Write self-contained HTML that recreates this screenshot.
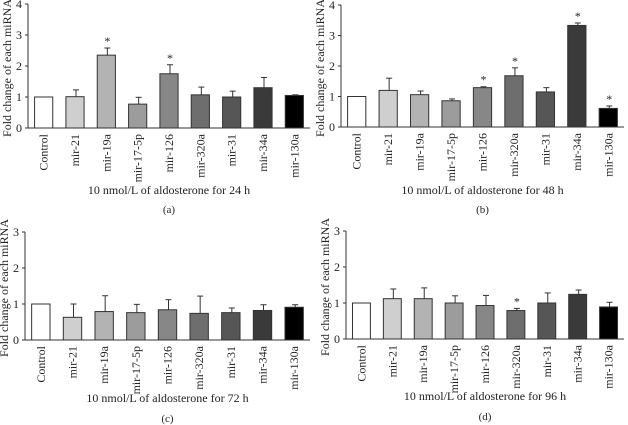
<!DOCTYPE html>
<html><head><meta charset="utf-8"><style>
body{margin:0;background:#fff}
svg{display:block;font-family:"Liberation Serif",serif}
</style></head><body>
<svg id="fig" width="628" height="425"></svg>
<script>
const categories=["Control","mir-21","mir-19a","mir-17-5p","mir-126","mir-320a","mir-31","mir-34a","mir-130a"];
const valuesA=[1,1.01,2.35,0.77,1.75,1.07,1.0,1.3,1.05];
const errorsA=[0,0.22,0.23,0.22,0.29,0.25,0.19,0.33,0.02];
const starsA=[0,0,1,0,1,0,0,0,0];
const valuesB=[1,1.2,1.06,0.86,1.29,1.68,1.15,3.33,0.61];
const errorsB=[0,0.4,0.12,0.06,0.03,0.26,0.14,0.08,0.08];
const starsB=[0,0,0,0,1,1,0,1,1];
const valuesC=[1,0.63,0.79,0.76,0.84,0.74,0.76,0.82,0.91];
const errorsC=[0,0.37,0.44,0.23,0.28,0.48,0.13,0.16,0.07];
const starsC=[0,0,0,0,0,0,0,0,0];
const valuesD=[1,1.12,1.12,1.0,0.93,0.79,1.0,1.24,0.89];
const errorsD=[0,0.27,0.3,0.2,0.28,0.06,0.28,0.12,0.13];
const starsD=[0,0,0,0,0,1,0,0,0];
const ticksAB=[0,1,2,3,4];
const ticksCD=[0,1,2,3];
const colors=["#fff","#cfcfcf","#b3b3b3","#9c9c9c","#878787","#6e6e6e","#565656","#3a3a3a","#000"];
const NS="http://www.w3.org/2000/svg";
const fig=document.getElementById('fig');
function mk(tag,attrs,parent,text){const e=document.createElementNS(NS,tag);for(const k in attrs)e.setAttribute(k,attrs[k]);if(text!==undefined)e.textContent=text;parent.appendChild(e);return e;}
function panel(id,vals,errs,stars,ticks,x0,x1,y0,yTop,xlab,xlabY,letter,letterY){
  const g=mk('g',{},fig);
  
  
  const max=ticks[ticks.length-1];
  const ys=v=>y0-(y0-yTop)*v/max;
  const step=(x1-x0)/categories.length;
  const xs=i=>x0+step*(i+0.5);
  const bw=step*0.58;
  const ya=mk('line',{x1:x0,y1:y0,x2:x0,y2:yTop,stroke:'#333','stroke-width':1},g);
  
  
  ticks.forEach(t=>{
    mk('line',{x1:x0-3,x2:x0,y1:ys(t),y2:ys(t),stroke:'#333'},g);
    const tl=mk('text',{x:x0-6,y:ys(t)+4,'text-anchor':'end','font-size':12,fill:'#222'},g,t);
    
    
  });
  vals.forEach((v,i)=>{
    const cx=xs(i);
    const top=ys(v);
    const r=mk('rect',{x:cx-bw/2,y:top,width:bw,height:y0-top,fill:colors[i],stroke:'#333','stroke-width':1},g);
    
    
    if(errs[i]>0){
      const et=ys(v+errs[i]);
      mk('line',{x1:cx+1,x2:cx+1,y1:top,y2:et,stroke:'#333'},g);
      mk('line',{x1:cx-2,x2:cx+4,y1:et,y2:et,stroke:'#333'},g);
    }
    if(stars[i]){
      const s=mk('text',{x:cx+1,y:ys(v+errs[i])-3,'text-anchor':'middle','font-size':12,fill:'#222'},g,'*');
      
      
    }
    const l=mk('text',{x:0,y:0,'text-anchor':'end','font-size':12,fill:'#222',transform:`translate(${cx+4},${y0+6}) rotate(-90)`},g,categories[i]);
    
    
  });
  const xa=mk('line',{x1:x0,y1:y0,x2:x1,y2:y0,stroke:'#333'},g);
  
  
  const yt=mk('text',{x:0,y:0,'text-anchor':'middle','font-size':12,fill:'#222',transform:`translate(${x0-17},${(y0+yTop)/2+2}) rotate(-90)`},g,'Fold change of each miRNA');
  
  
  const xt=mk('text',{x:(x0+x1)/2,y:xlabY,'text-anchor':'middle','font-size':12,fill:'#222'},g,xlab);
  
  
  const lt=mk('text',{x:(x0+x1)/2,y:letterY,'text-anchor':'middle','font-size':11,fill:'#222'},g,letter);
  
  
}
panel('a',valuesA,errorsA,starsA,ticksAB,28,310,128,4,'10 nmol/L of aldosterone for 24 h',194,'(a)',213);
panel('b',valuesB,errorsB,starsB,ticksAB,341,624,127,5,'10 nmol/L of aldosterone for 48 h',194,'(b)',213);
panel('c',valuesC,errorsC,starsC,ticksCD,25,310,340,232,'10 nmol/L of aldosterone for 72 h',402,'(c)',422);
panel('d',valuesD,errorsD,starsD,ticksCD,346,624,339,231,'10 nmol/L of aldosterone for 96 h',400,'(d)',420);
</script>
</body></html>
